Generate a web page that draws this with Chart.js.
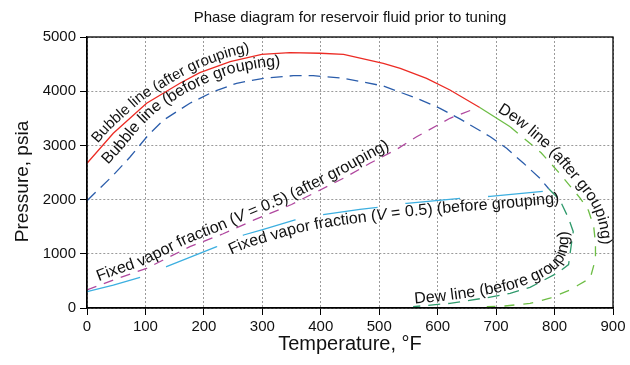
<!DOCTYPE html>
<html lang="en">
<head>
    <meta charset="UTF-8">
    <title>Phase diagram for reservoir fluid prior to tuning</title>
    <script src="https://cdn.jsdelivr.net/npm/chart.js"></script>
    <style>
        html, body { margin: 0; padding: 0; background: #fff; }
        #wrap { width: 630px; height: 365px; position: relative; }
        canvas { display: block; }
    </style>
</head>
<body>
    <div id="wrap">
        <canvas id="phase-chart"></canvas>
    </div>
    <script>
        // values (temperature in F, pressure in psia)
        var bubbleAfterT = [0, 45, 102, 159, 193, 245, 299, 347, 399, 439, 507, 536, 581, 621, 672];
        var bubbleAfterP = [2670, 3223, 3777, 4146, 4341, 4545, 4680, 4710, 4700, 4680, 4515, 4420, 4238, 4022, 3700];

        var dewAfterT = [672, 724, 777, 806, 844, 858, 867, 870, 870, 861, 840, 826, 792, 758, 715, 684];
        var dewAfterP = [3700, 3345, 2865, 2515, 2024, 1800, 1500, 1200, 900, 548, 420, 332, 180, 86, 37, 25];

        var bubbleBeforeT = [0, 44, 74, 105, 131, 176, 216, 256, 302, 353, 387, 439, 507, 564, 604, 638, 690, 718, 747, 775, 790];
        var bubbleBeforeP = [1980, 2440, 2790, 3192, 3468, 3777, 3990, 4146, 4238, 4286, 4286, 4238, 4096, 3869, 3684, 3490, 3160, 2946, 2670, 2393, 2200];

        var dewBeforeT = [790, 809, 824, 832, 829, 824, 804, 758, 724, 684, 621, 558];
        var dewBeforeP = [2200, 1993, 1655, 1408, 1193, 800, 640, 380, 271, 190, 86, 25];

        var fixedAfterT = [0, 45, 102, 176, 233, 285, 350, 399, 444, 484, 530, 564, 621, 661];
        var fixedAfterP = [332, 517, 732, 1131, 1370, 1620, 1910, 2177, 2423, 2670, 2928, 3160, 3500, 3666];

        var fixedBeforeT = [0, 45, 91, 136, 222, 268, 302, 356, 407, 467, 498, 547, 641, 690, 784];
        var fixedBeforeP = [301, 424, 566, 762, 1131, 1347, 1452, 1624, 1729, 1821, 1858, 1932, 2024, 2060, 2155];

        var tempTicks = [0, 100, 200, 300, 400, 500, 600, 700, 800, 900];
        var pressTicks = [0, 1000, 2000, 3000, 4000, 5000];

        // curve labels: which dataset, text (*..* = italic), where it starts along the curve
        var curveLabels = [
            { ds: 0, text: 'Bubble line (after grouping)', start: 20, off: 5, size: 15, smooth: 4 },
            { ds: 2, text: 'Bubble line (before grouping)', start: 38, off: 11, size: 16, smooth: 4 },
            { ds: 4, text: 'Fixed vapor fraction (*V* = 0.5) (after grouping)', start: 12, off: 4, size: 16, smooth: 4 },
            { ds: 5, text: 'Fixed vapor fraction (*V* = 0.5) (before grouping)', start: 145, off: -13, size: 16, smooth: 6 },
            { ds: 1, text: 'Dew line (after grouping)', start: 14, off: 6, size: 16, smooth: 6 },
            { ds: 3, text: 'Dew line (before grouping)', start: -8, off: 3, size: 16, smooth: 20, reverse: true }
        ];

        var FONT = "'Liberation Sans', Arial, Helvetica, sans-serif";

        function pts(xs, ys) {
            return xs.map(function(x, i) { return { x: x, y: ys[i] }; });
        }

        function withLengths(p) {
            var cum = [0];
            for (var i = 1; i < p.length; i++) {
                cum.push(cum[i - 1] + Math.hypot(p[i].x - p[i - 1].x, p[i].y - p[i - 1].y));
            }
            return { p: p, cum: cum };
        }

        function pointAt(path, s) {
            var p = path.p, cum = path.cum;
            if (s <= 0) {
                var a = Math.atan2(p[1].y - p[0].y, p[1].x - p[0].x);
                return { x: p[0].x + Math.cos(a) * s, y: p[0].y + Math.sin(a) * s };
            }
            for (var i = 1; i < p.length; i++) {
                if (s <= cum[i]) {
                    var t = (s - cum[i - 1]) / (cum[i] - cum[i - 1]);
                    return { x: p[i - 1].x + (p[i].x - p[i - 1].x) * t, y: p[i - 1].y + (p[i].y - p[i - 1].y) * t };
                }
            }
            var n = p.length - 1;
            var b = Math.atan2(p[n].y - p[n - 1].y, p[n].x - p[n - 1].x);
            var extra = s - cum[n];
            return { x: p[n].x + Math.cos(b) * extra, y: p[n].y + Math.sin(b) * extra };
        }

        // baseline for a label: the curve shifted sideways, resampled and smoothed
        function baseline(meta, lbl) {
            var raw = meta.data.map(function(el) { return { x: el.x, y: el.y }; });
            if (lbl.reverse) raw.reverse();
            var path = withLengths(raw);
            var total = path.cum[path.cum.length - 1];
            var first = lbl.start - 40, samples = [];
            for (var s = first; s <= total + 80; s += 1) {
                var p1 = pointAt(path, s - 5), p2 = pointAt(path, s + 5);
                var ang = Math.atan2(p2.y - p1.y, p2.x - p1.x);
                var pt = pointAt(path, s);
                samples.push({ x: pt.x + Math.sin(ang) * lbl.off, y: pt.y - Math.cos(ang) * lbl.off });
            }
            var w = lbl.smooth, out = [];
            for (var i = 0; i < samples.length; i++) {
                var sx = 0, sy = 0, n = 0;
                for (var j = Math.max(0, i - w); j <= Math.min(samples.length - 1, i + w); j++) {
                    sx += samples[j].x; sy += samples[j].y; n++;
                }
                out.push({ x: sx / n, y: sy / n });
            }
            return { path: withLengths(out), begin: 40 };
        }

        var curveTextPlugin = {
            id: 'curveText',
            afterDatasetsDraw: function(chart) {
                var ctx = chart.ctx;
                ctx.save();
                ctx.fillStyle = '#111';
                ctx.textBaseline = 'alphabetic';
                ctx.textAlign = 'left';
                curveLabels.forEach(function(lbl) {
                    var b = baseline(chart.getDatasetMeta(lbl.ds), lbl);
                    var path = b.path;
                    var s = b.begin;
                    lbl.text.split('*').forEach(function(part, k) {
                        ctx.font = (k % 2 ? 'italic ' : '') + lbl.size + 'px ' + FONT;
                        for (var c = 0; c < part.length; c++) {
                            var ch = part[c];
                            var w = ctx.measureText(ch).width;
                            var mid = s + w / 2;
                            var a1 = pointAt(path, mid - 4), a2 = pointAt(path, mid + 4);
                            var ang = Math.atan2(a2.y - a1.y, a2.x - a1.x);
                            var pt = pointAt(path, mid);
                            ctx.save();
                            ctx.translate(pt.x, pt.y);
                            ctx.rotate(ang);
                            ctx.fillText(ch, -w / 2, 0);
                            ctx.restore();
                            s += w;
                        }
                    });
                });
                ctx.restore();
            }
        };

        var frameAndTitlesPlugin = {
            id: 'frameTitles',
            afterDraw: function(chart) {
                var ctx = chart.ctx, a = chart.chartArea;
                var cx = (a.left + a.right) / 2;
                ctx.save();
                ctx.strokeStyle = '#000';
                ctx.lineWidth = 1.3;
                ctx.strokeRect(a.left, a.top, a.right - a.left, a.bottom - a.top);

                ctx.fillStyle = '#111';
                ctx.textAlign = 'center';
                ctx.textBaseline = 'middle';
                ctx.font = '15px ' + FONT;
                ctx.fillText('Phase diagram for reservoir fluid prior to tuning', cx, 18);

                ctx.font = '20px ' + FONT;
                ctx.fillText('Temperature, \u00B0F', cx, 344);

                ctx.translate(23, (a.top + a.bottom) / 2 + 9);
                ctx.rotate(-Math.PI / 2);
                ctx.font = '19px ' + FONT;
                ctx.fillText('Pressure, psia', 0, 0);
                ctx.restore();
            }
        };

        function line(data, color, dash) {
            return {
                data: data,
                borderColor: color,
                borderWidth: 1.3,
                borderDash: dash,
                pointRadius: 0,
                showLine: true,
                tension: 0,
                fill: false
            };
        }

        var dewAfterSet = line(pts(dewAfterT, dewAfterP), '#6dbd45', [10, 9]);
        dewAfterSet.segment = {
            borderDash: function(c) { return c.p0DataIndex === 0 ? [] : [10, 9]; }
        };

        var ctx = document.getElementById('phase-chart').getContext('2d');
        var phaseChart = new Chart(ctx, {
            type: 'scatter',
            data: {
                datasets: [
                    line(pts(bubbleAfterT, bubbleAfterP), '#ec2b24', []),
                    dewAfterSet,
                    line(pts(bubbleBeforeT, bubbleBeforeP), '#2b5dab', [12, 7]),
                    line(pts(dewBeforeT, dewBeforeP), '#2f9a6c', [12, 8]),
                    line(pts(fixedAfterT, fixedAfterP), '#b0489f', [10, 8]),
                    line(pts(fixedBeforeT, fixedBeforeP), '#3cafe0', [55, 28])
                ]
            },
            options: {
                responsive: true,
                maintainAspectRatio: false,
                animation: false,
                layout: { padding: { left: 0, right: 17, top: 37, bottom: 0 } },
                plugins: {
                    legend: { display: false },
                    tooltip: { enabled: false },
                    title: { display: false }
                },
                scales: {
                    x: {
                        type: 'linear',
                        min: 0,
                        max: 900,
                        afterBuildTicks: function(s) { s.ticks = tempTicks.map(function(v) { return { value: v }; }); },
                        afterFit: function(s) { s.height = 57; },
                        ticks: { color: '#111', padding: 3, font: { family: FONT, size: 15 }, callback: function(v) { return String(v); } },
                        grid: { color: '#9a9a9a', lineWidth: 1, tickColor: '#000', tickLength: 7 },
                        border: { color: '#000', width: 1.3, dash: [2, 2] }
                    },
                    y: {
                        type: 'linear',
                        min: 0,
                        max: 5000,
                        afterBuildTicks: function(s) { s.ticks = pressTicks.map(function(v) { return { value: v }; }); },
                        afterFit: function(s) { s.width = 87; },
                        ticks: { color: '#111', padding: 4, font: { family: FONT, size: 15 }, callback: function(v) { return String(v); } },
                        grid: { color: '#9a9a9a', lineWidth: 1, tickColor: '#000', tickLength: 7 },
                        border: { color: '#000', width: 1.3, dash: [2, 2] }
                    }
                }
            },
            plugins: [curveTextPlugin, frameAndTitlesPlugin]
        });
    </script>
</body>
</html>
